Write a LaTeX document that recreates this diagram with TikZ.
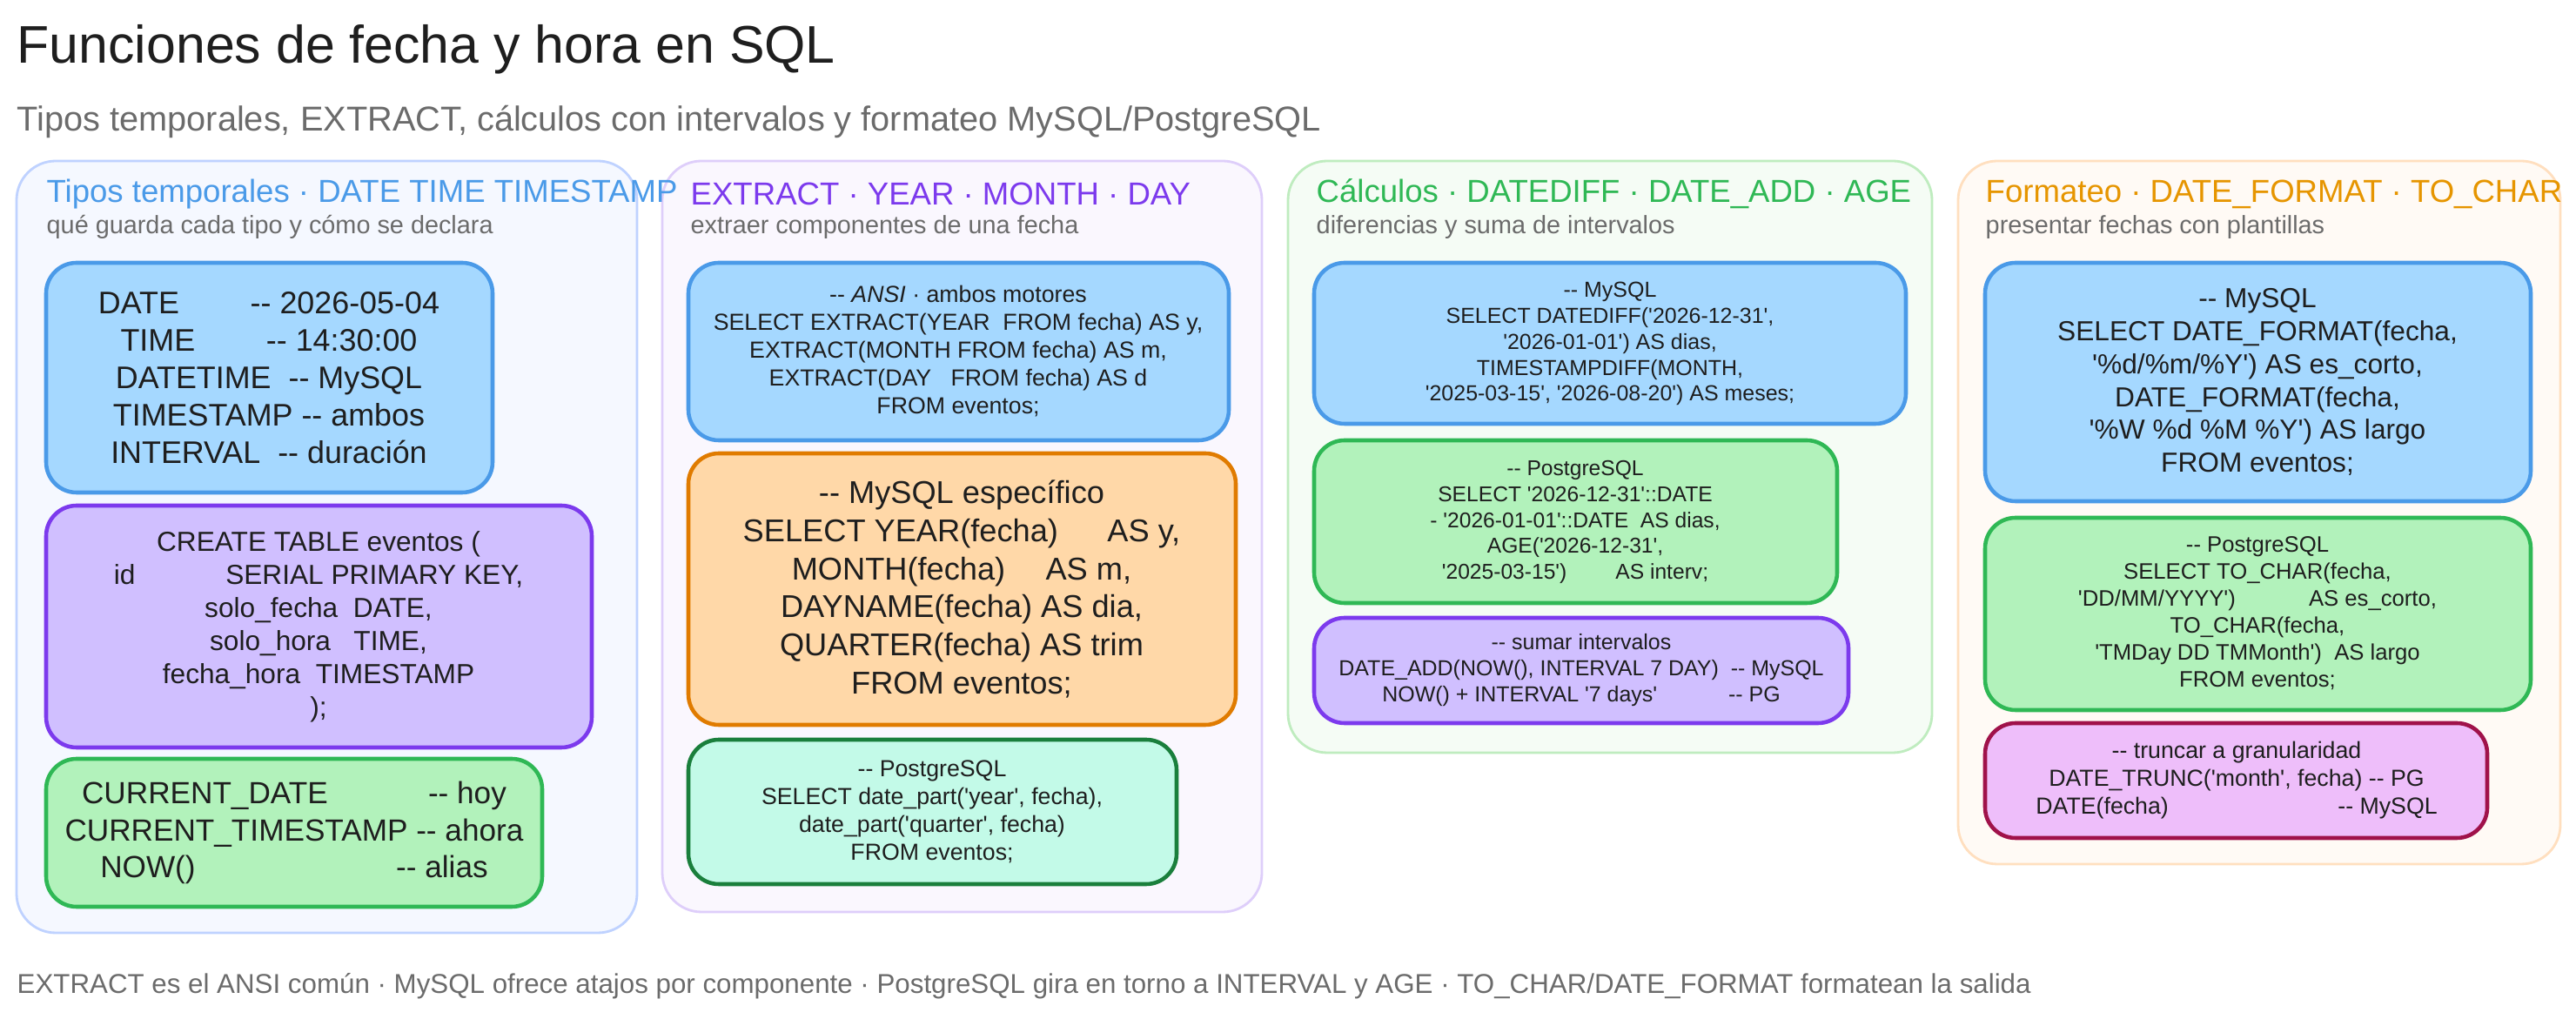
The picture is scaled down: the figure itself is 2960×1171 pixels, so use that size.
\documentclass[tikz,border=0pt]{standalone}
\usepackage{fontspec}
\setmainfont{Liberation Sans}[Ligatures=TeXOff]
\usetikzlibrary{positioning}
\definecolor{ink}{HTML}{1E1E1E}
\definecolor{muted}{HTML}{6B6B6B}
\definecolor{bluefill}{HTML}{A5D8FF}\definecolor{bluedraw}{HTML}{4A9AE8}
\definecolor{purfill}{HTML}{D0BFFF}\definecolor{purdraw}{HTML}{7C3AED}
\definecolor{grnfill}{HTML}{B2F2BB}\definecolor{grndraw}{HTML}{2FB855}
\definecolor{orgfill}{HTML}{FFD8A8}\definecolor{orgdraw}{HTML}{E07B00}
\definecolor{tealfill}{HTML}{C3FAE8}\definecolor{tealdraw}{HTML}{1A7F3C}
\definecolor{magfill}{HTML}{EEBEFA}\definecolor{magdraw}{HTML}{A0124A}
\newcommand{\fs}[2]{\fontsize{#1}{#2}\selectfont}
\tikzset{
  panel/.style={draw=#1!25, fill=#1!4, line width=0.8pt, rounded corners=0.45cm},
  box/.style 2 args={draw=#1draw, fill=#2, line width=1.3pt, rounded corners=0.35cm},
  code/.style={text=ink, align=center, inner sep=0pt},
  head/.style={anchor=west, font=\fs{10.4}{12}, inner sep=0pt},
  sub/.style={anchor=west, font=\fs{8.2}{10}, text=muted, inner sep=0pt},
}
\begin{document}
\begin{tikzpicture}[x=0.01cm,y=-0.01cm]
\useasboundingbox (0,0) rectangle (2960,1171);
% title
\node[anchor=west, inner sep=0pt, font=\fs{17.3}{20}, text=ink] (title) at (19,57) {Funciones de fecha y hora en SQL};
\node[anchor=west, inner sep=0pt, font=\fs{11.3}{13}, text=muted] (subtitle) at (19,140) {Tipos temporales, EXTRACT, cálculos con intervalos y formateo MySQL/PostgreSQL};
% panels
\draw[panel={blue!70!cyan}] (19,185) rectangle (732,1072);
\draw[panel=purdraw] (761,185) rectangle (1450,1048);
\draw[panel=green!70!black] (1480,185) rectangle (2220,865);
\draw[panel=orange] (2250,185) rectangle (2942,993);
% panel 1
\node[head, text=bluedraw] (h1) at (53,223) {Tipos temporales · DATE TIME TIMESTAMP};
\node[sub] (s1) at (53,261) {qué guarda cada tipo y cómo se declara};
\draw[box={blue}{bluefill}] (53,302) rectangle (566,566);
\node[code, font=\fs{10.2}{12.2}] (tipos) at (309,434) {DATE \quad\quad -- 2026-05-04\\TIME \quad\quad -- 14:30:00\\DATETIME \ -- MySQL\\TIMESTAMP -- ambos\\INTERVAL \ -- duración};
\draw[box={pur}{purfill}] (53,581) rectangle (680,859);
\node[code, font=\fs{9}{10.8}] (tabla) at (366,720) {CREATE TABLE eventos (\\id \qquad\quad SERIAL PRIMARY KEY,\\solo\_fecha \ DATE,\\solo\_hora \ \ TIME,\\fecha\_hora \ TIMESTAMP\\);};
\draw[box={grn}{grnfill}] (53,872) rectangle (623,1042);
\node[code, font=\fs{10}{12}] (ahora) at (338,957) {CURRENT\_DATE \qquad\quad -- hoy\\CURRENT\_TIMESTAMP -- ahora\\NOW() \qquad\qquad\qquad\ -- alias};
% panel 2
\node[head, text=purdraw] (h2) at (793,223) {EXTRACT · YEAR · MONTH · DAY};
\node[sub] (s2) at (793,261) {extraer componentes de una fecha};
\draw[box={blue}{bluefill}] (791,302) rectangle (1412,506);
\node[code, font=\fs{7.6}{9.1}] (ansi) at (1101,404) {-- \textit{ANSI} · ambos motores\\SELECT EXTRACT(YEAR \ FROM fecha) AS y,\\EXTRACT(MONTH FROM fecha) AS m,\\EXTRACT(DAY \ \ FROM fecha) AS d\\FROM eventos;};
\draw[box={org}{orgfill}] (791,521) rectangle (1420,833);
\node[code, font=\fs{10.3}{12.4}] (mysqlx) at (1105,677) {-- MySQL específico\\SELECT YEAR(fecha) \quad\ AS y,\\MONTH(fecha) \quad AS m,\\DAYNAME(fecha) AS dia,\\QUARTER(fecha) AS trim\\FROM eventos;};
\draw[box={teal}{tealfill}] (791,850) rectangle (1352,1016);
\node[code, font=\fs{7.6}{9.1}] (pgx) at (1071,933) {-- PostgreSQL\\SELECT date\_part('year', fecha),\\date\_part('quarter', fecha)\\FROM eventos;};
% panel 3
\node[head, text=grndraw] (h3) at (1512,223) {Cálculos · DATEDIFF · DATE\_ADD · AGE};
\node[sub] (s3) at (1512,261) {diferencias y suma de intervalos};
\draw[box={blue}{bluefill}] (1510,302) rectangle (2190,487);
\node[code, font=\fs{7.1}{8.5}] (diff) at (1850,395) {-- MySQL\\SELECT DATEDIFF('2026-12-31',\\'2026-01-01') AS dias,\\TIMESTAMPDIFF(MONTH,\\'2025-03-15', '2026-08-20') AS meses;};
\draw[box={grn}{grnfill}] (1510,506) rectangle (2111,693);
\node[code, font=\fs{7}{8.4}] (age) at (1810,600) {-- PostgreSQL\\SELECT '2026-12-31'::DATE\\- '2026-01-01'::DATE \ AS dias,\\AGE('2026-12-31',\\'2025-03-15') \qquad AS interv;};
\draw[box={pur}{purfill}] (1510,710) rectangle (2124,831);
\node[code, font=\fs{7.1}{8.6}] (suma) at (1817,770) {-- sumar intervalos\\DATE\_ADD(NOW(), INTERVAL 7 DAY) \ -- MySQL\\NOW() + INTERVAL '7 days' \qquad\quad -- PG};
% panel 4
\node[head, text=orgdraw!80!yellow] (h4) at (2281,223) {Formateo · DATE\_FORMAT · TO\_CHAR};
\node[sub] (s4) at (2281,261) {presentar fechas con plantillas};
\draw[box={blue}{bluefill}] (2281,302) rectangle (2908,576);
\node[code, font=\fs{9}{10.8}] (fmt) at (2594,439) {-- MySQL\\SELECT DATE\_FORMAT(fecha,\\'\%d/\%m/\%Y') AS es\_corto,\\DATE\_FORMAT(fecha,\\'\%W \%d \%M \%Y') AS largo\\FROM eventos;};
\draw[box={grn}{grnfill}] (2281,595) rectangle (2908,816);
\node[code, font=\fs{7.3}{8.8}] (tochar) at (2594,705) {-- PostgreSQL\\SELECT TO\_CHAR(fecha,\\'DD/MM/YYYY') \qquad\quad AS es\_corto,\\TO\_CHAR(fecha,\\'TMDay DD TMMonth') \ AS largo\\FROM eventos;};
\draw[box={mag}{magfill}] (2281,831) rectangle (2858,963);
\node[code, font=\fs{7.6}{9.1}] (trunc) at (2570,897) {-- truncar a granularidad\\DATE\_TRUNC('month', fecha) -- PG\\DATE(fecha) \qquad\qquad\qquad\quad -- MySQL};
% footer
\node[anchor=west, inner sep=0pt, font=\fs{8.9}{10}, text=muted] (footer) at (19,1133) {EXTRACT es el ANSI común · MySQL ofrece atajos por componente · PostgreSQL gira en torno a INTERVAL y AGE · TO\_CHAR/DATE\_FORMAT formatean la salida};
\end{tikzpicture}
\end{document}
